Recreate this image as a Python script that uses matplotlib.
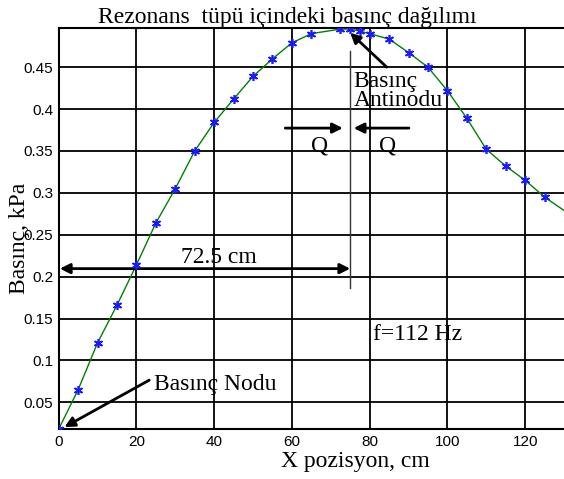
import matplotlib.pyplot as plt

# Data
x_cm = [0, 5, 10, 15, 20, 25, 30, 35, 40, 45, 50, 55, 60, 65,
        72.5, 75, 77.5, 80, 85, 90, 95, 100, 105, 110, 115, 120, 125]
p_kpa = [0.018, 0.065, 0.121, 0.166, 0.214, 0.264, 0.305, 0.350, 0.384, 0.412,
         0.439, 0.460, 0.479, 0.490, 0.4955, 0.4955, 0.493, 0.490, 0.4835,
         0.4675, 0.450, 0.422, 0.389, 0.352, 0.332, 0.315, 0.295]
# curve continues to the right edge of the plot
curve_end_x = [130]
curve_end_y = [0.279]

xticks = [0, 20, 40, 60, 80, 100, 120]
yticks = [0.05, 0.1, 0.15, 0.2, 0.25, 0.3, 0.35, 0.4, 0.45]
ytick_labels = ['0.05', '0.1', '0.15', '0.2', '0.25', '0.3', '0.35', '0.4', '0.45']

serif = 'Liberation Serif'
sans = 'Liberation Sans'
fs = 17

fig = plt.figure(figsize=(5.64, 4.79), dpi=100)
ax = fig.add_axes([0.104, 0.104, 0.896, 0.838])

ax.plot(x_cm + curve_end_x, p_kpa + curve_end_y, color='#008000', lw=1, zorder=3)
ax.plot(x_cm, p_kpa, ls='none', marker=(6, 2, 0), ms=6.5, mew=1.2,
        color='#1a1aff', zorder=4)

ax.set_xlim(0, 130)
ax.set_ylim(0.018, 0.497)
ax.set_xticks(xticks)
ax.set_yticks(yticks)
ax.set_yticklabels(ytick_labels)
ax.tick_params(length=0, pad=4, labelsize=11)
for lab in ax.get_xticklabels() + ax.get_yticklabels():
    lab.set_fontfamily(sans)
ax.grid(True, color='black', lw=1.3)
for s in ['left', 'bottom', 'top']:
    ax.spines[s].set_linewidth(1.5)
ax.spines['right'].set_visible(False)

ax.set_title('Rezonans  tüpü içindeki basınç dağılımı', family=serif,
             fontsize=fs, x=0.452, pad=3)
ax.set_xlabel('X pozisyon, cm', family=serif, fontsize=fs)
ax.set_ylabel('Basınç, kPa', family=serif, fontsize=fs)
ax.xaxis.set_label_coords(0.588, -0.055)
ax.yaxis.set_label_coords(-0.057, 0.476)

arrow = dict(arrowstyle='-|>', color='black', lw=2, mutation_scale=15,
             shrinkA=0, shrinkB=0)

# node
ax.annotate('', xy=(1.5, 0.0205), xytext=(23.3, 0.0765), arrowprops=arrow)
ax.text(24.5, 0.071, 'Basınç Nodu', family=serif, fontsize=fs, va='center')

# antinode
ax.annotate('', xy=(75, 0.491), xytext=(84.4, 0.450), arrowprops=arrow)
ax.text(75.8, 0.4215, 'Basınç\nAntinodu', family=serif, fontsize=fs,
        va='center', linespacing=0.9)

# vertical marker line at the antinode
ax.plot([75, 75], [0.187, 0.4695], color='#333333', lw=1, zorder=2)

# Q arrows
ax.annotate('', xy=(73.1, 0.3773), xytext=(58.3, 0.3773), arrowprops=arrow)
ax.annotate('', xy=(75.9, 0.3773), xytext=(90.1, 0.3773), arrowprops=arrow)
ax.text(67.1, 0.356, 'Q', family=serif, fontsize=fs, ha='center', va='center')
ax.text(84.6, 0.356, 'Q', family=serif, fontsize=fs, ha='center', va='center')

# 72.5 cm span
ax.annotate('', xy=(0.3, 0.2096), xytext=(75, 0.2096),
            arrowprops=dict(arrowstyle='<|-|>', color='black', lw=2,
                            mutation_scale=15, shrinkA=0, shrinkB=0))
ax.text(41.3, 0.223, '72.5 cm', family=serif, fontsize=fs, ha='center',
        va='center')

ax.text(80.8, 0.131, 'f=112 Hz', family=serif, fontsize=fs, va='center')

fig.savefig('out.png', dpi=100)
